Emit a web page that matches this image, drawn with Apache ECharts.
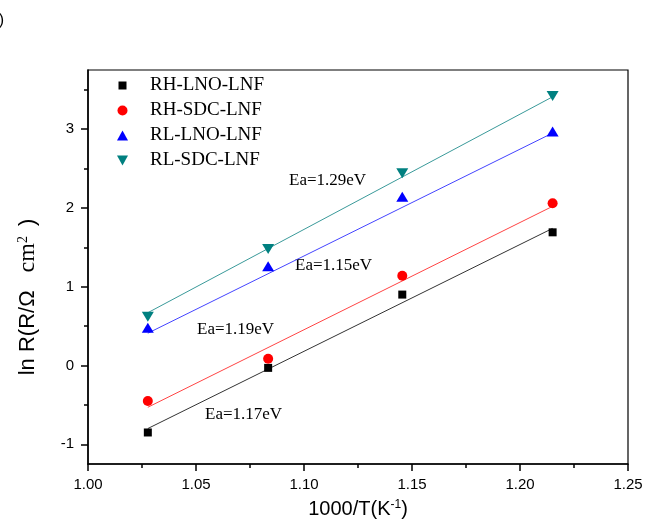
<!DOCTYPE html>
<html>
<head>
<meta charset="utf-8">
<script src="https://cdn.jsdelivr.net/npm/echarts@6/dist/echarts.min.js"></script>
<style>html,body{margin:0;padding:0;background:#fff;}#c{width:645px;height:522px;}</style>
</head>
<body>
<div id="c"></div>
<script>
// ---- data ----
const seriesNames = ['RH-LNO-LNF', 'RH-SDC-LNF', 'RL-LNO-LNF', 'RL-SDC-LNF'];
const invT = [1.0277, 1.0834, 1.1455, 1.2151];           // 1000/T (K^-1)
const rhLno = [-0.85, -0.03, 0.90, 1.69];
const rhSdc = [-0.45, 0.085, 1.14, 2.06];
const rlLno = [0.48, 1.26, 2.14, 2.97];
const rlSdc = [0.62, 1.48, 2.44, 3.42];
// linear-fit end points
const fitX = [1.0277, 1.2151];
const rhLnoFit = [-0.80, 1.74];
const rhSdcFit = [-0.53, 2.02];
const rlLnoFit = [0.41, 2.95];
const rlSdcFit = [0.67, 3.41];
const yTickLabels = [-1, 0, 1, 2, 3];
const yMinorTicks = [-0.5, 0.5, 1.5, 2.5, 3.5];
const eaLabels = ['Ea=1.29eV', 'Ea=1.15eV', 'Ea=1.19eV', 'Ea=1.17eV'];

const colors = ['#000000', '#ff0000', '#0000ff', '#008080'];
const fitColors = ['#333333', '#ff4444', '#4444ff', '#3a9a9a'];
const symbols = ['rect', 'circle', 'triangle', 'triangle'];
const symbolSizes = [8, 10, [12, 10], [12, 10]];
const symbolRot = [0, 0, 0, 180];
const legendIcons = [
  'path://M0,0M28,11M1.5,1.5L9.5,1.5L9.5,9.5L1.5,9.5Z',
  'path://M0,0M28,11M10.5,5.5A5,5,0,1,1,0.5,5.5A5,5,0,1,1,10.5,5.5Z',
  'path://M0,0M28,11M5.5,0.5L11,10.5L0,10.5Z',
  'path://M0,0M28,11M0,0.5L11,0.5L5.5,10.5Z'
];

const ys = [rhLno, rhSdc, rlLno, rlSdc];
const fits = [rhLnoFit, rhSdcFit, rlLnoFit, rlSdcFit];

const series = [];
fits.forEach((f, i) => {
  series.push({
    type: 'line', name: seriesNames[i] + ' fit', silent: true,
    data: fitX.map((x, k) => [x, f[k]]),
    symbol: 'none', lineStyle: { color: fitColors[i], width: 1 }, z: 2
  });
});
ys.forEach((y, i) => {
  series.push({
    type: 'scatter', name: seriesNames[i],
    data: invT.map((x, k) => [x, y[k]]),
    symbol: symbols[i], symbolSize: symbolSizes[i], symbolRotate: symbolRot[i],
    itemStyle: { color: colors[i], opacity: 1 }, z: 5
  });
});

const axisCommon = {
  axisLine: { onZero: false, lineStyle: { color: '#000', width: 1.5 } },
  splitLine: { show: false }
};

const chart = echarts.init(document.getElementById('c'), null, { renderer: 'canvas' });
chart.setOption({
  animation: false,
  backgroundColor: '#fff',
  grid: { left: 88, right: 17, top: 70, bottom: 58, show: true, borderColor: '#000', borderWidth: 1.2, containLabel: false, outerBoundsMode: 'none' },
  legend: {
    orient: 'vertical', left: 112, top: 71, itemWidth: 28, itemHeight: 11, itemGap: 6,
    data: seriesNames.map((n, i) => ({ name: n, icon: legendIcons[i] })),
    textStyle: { fontFamily: 'Liberation Serif', fontSize: 19, color: '#000' },
    selectedMode: false
  },
  xAxis: [{
    type: 'value', min: 1.0, max: 1.25, interval: 0.05,
    ...axisCommon,
    axisTick: { show: true, inside: false, length: 7, lineStyle: { color: '#000', width: 1.5 } },
    minorTick: { show: true, splitNumber: 2, length: 4, lineStyle: { color: '#000', width: 1.5 } },
    axisLabel: { margin: 13, fontFamily: 'Liberation Sans', fontSize: 15, color: '#000', formatter: v => v.toFixed(2) }
  }],
  yAxis: [{
    type: 'value', min: -1.25, max: 3.75, position: 'left',
    ...axisCommon,
    axisTick: { show: true, inside: false, length: 7, customValues: yTickLabels, lineStyle: { color: '#000', width: 1.5 } },
    axisLabel: { margin: 14, customValues: yTickLabels, fontFamily: 'Liberation Sans', fontSize: 15, color: '#000', formatter: v => String(v) }
  }, {
    type: 'value', min: -1.25, max: 3.75, position: 'left',
    axisLine: { show: false, onZero: false }, splitLine: { show: false },
    axisTick: { show: true, inside: false, length: 4, customValues: yMinorTicks, lineStyle: { color: '#000', width: 1.5 } },
    axisLabel: { show: false }
  }],
  graphic: [
    { type: 'text', x: 4, y: 21, style: { text: '(b)', textAlign: 'right', textVerticalAlign: 'middle', font: '16px "Liberation Sans"', fill: '#000' } },
    { type: 'text', x: 289, y: 181, style: { text: eaLabels[0], textAlign: 'left', textVerticalAlign: 'middle', font: '17px "Liberation Serif"', fill: '#000' } },
    { type: 'text', x: 295, y: 266, style: { text: eaLabels[1], textAlign: 'left', textVerticalAlign: 'middle', font: '17px "Liberation Serif"', fill: '#000' } },
    { type: 'text', x: 197, y: 330, style: { text: eaLabels[2], textAlign: 'left', textVerticalAlign: 'middle', font: '17px "Liberation Serif"', fill: '#000' } },
    { type: 'text', x: 205, y: 415, style: { text: eaLabels[3], textAlign: 'left', textVerticalAlign: 'middle', font: '17px "Liberation Serif"', fill: '#000' } },
    { type: 'text', x: 358, y: 509, style: {
        text: '{a|1000/T(K}{s|-1}{a|)}', textAlign: 'center', textVerticalAlign: 'middle', fill: '#000',
        rich: { a: { fontFamily: 'Liberation Sans', fontSize: 20, fill: '#000' }, s: { fontFamily: 'Liberation Sans', fontSize: 12, verticalAlign: 'top', fill: '#000' } } } },
    { type: 'text', x: 28, y: 297, rotation: Math.PI / 2, style: {
        text: '{a|ln R(R/Ω}{g| }{b|cm}{s|2}{h| }{a|)}', textAlign: 'center', textVerticalAlign: 'middle', fill: '#000',
        rich: {
          a: { fontFamily: 'Liberation Sans', fontSize: 22, fill: '#000' },
          g: { width: 18 }, h: { width: 10 },
          b: { fontFamily: 'Liberation Serif', fontSize: 24, fill: '#000' },
          s: { fontFamily: 'Liberation Serif', fontSize: 14, verticalAlign: 'top', fill: '#000' } } } }
  ],
  series: series
});
</script>
</body>
</html>
